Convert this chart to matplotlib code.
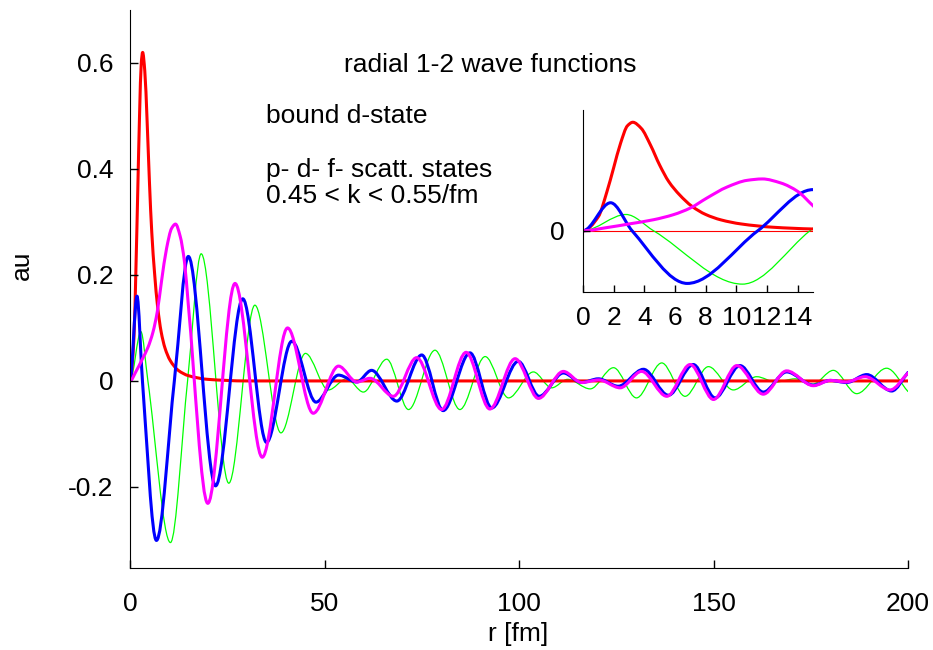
import numpy as np
import matplotlib
matplotlib.use('Agg')
import matplotlib.pyplot as plt
from matplotlib.path import Path
from matplotlib.patches import PathPatch

plt.rcParams['font.family'] = ['Liberation Sans', 'DejaVu Sans']

# values: knots at extrema / zero crossings, r in fm
red_r = [0, 1.0, 1.55, 2.0, 2.45, 2.9, 3.25, 3.8, 4.4, 5.0, 5.6, 6.3, 7.1, 8.0, 9.0,
         10.3, 12.4, 15.0, 20.0, 30.0, 200.0]
red_u = [0, 0.08, 0.22, 0.36, 0.50, 0.60, 0.62, 0.585, 0.49, 0.375, 0.28, 0.205, 0.14,
         0.093, 0.062, 0.039, 0.020, 0.010, 0.003, 0.0, 0.0]

green_r = [0, 2.8, 4.6, 10.4, 14.8, 18.3, 25.4, 32.1, 38.8, 45.1, 51.0, 55.7, 60.0,
           66.0, 71.6, 78.4, 84.8, 91.3, 97.3, 103.7, 108.4, 112.5, 118.3, 124.3,
           130.2, 136.7, 142.7, 148.7, 155.1, 161.1, 166.0, 171.0, 175.5, 180.8,
           186.8, 194.5, 200.0]
green_u = [0, 0.093, 0.0, -0.305, 0.0, 0.24, -0.193, 0.143, -0.098, 0.052, -0.017,
           0.004, -0.021, 0.041, -0.054, 0.058, -0.054, 0.046, -0.032, 0.017, -0.013,
           0.003, -0.015, 0.025, -0.032, 0.034, -0.029, 0.027, -0.017, 0.008, -0.002,
           0.004, -0.006, 0.020, -0.024, 0.024, -0.020]

blue_r = [0, 1.8, 3.2, 6.8, 11.4, 15.0, 22.0, 29.0, 35.1, 41.6, 47.8, 53.6, 58.3,
          62.1, 68.6, 75.0, 80.5, 87.4, 93.0, 99.8, 105.2, 111.4, 116.1, 120.4, 125.5,
          132.0, 138.4, 144.8, 150.4, 156.8, 162.8, 168.8, 175.7, 180.0, 184.2, 189.4,
          195.8, 200.0]
blue_u = [0, 0.16, 0.0, -0.301, 0.0, 0.235, -0.198, 0.155, -0.116, 0.075, -0.040,
          0.011, -0.002, 0.020, -0.038, 0.049, -0.056, 0.053, -0.051, 0.037, -0.029,
          0.015, -0.003, 0.004, -0.010, 0.022, -0.027, 0.031, -0.032, 0.029, -0.021,
          0.017, -0.008, 0.001, -0.003, 0.012, -0.019, 0.016]

magenta_r = [0, 1.55, 3.08, 4.6, 5.9, 7.0, 8.08, 9.4, 10.7, 11.7, 12.9, 14.0, 15.0,
             20.0, 27.0, 34.0, 40.5, 47.1, 53.6, 58.3, 61.7, 67.7, 73.7, 80.1, 86.4,
             92.5, 99.0, 105.0, 111.4, 116.1, 120.5, 126.0, 131.5, 138.0, 144.0, 150.0,
             156.0, 162.8, 168.8, 175.7, 180.0, 184.0, 189.0, 195.4, 200.0]
magenta_u = [0, 0.018, 0.040, 0.063, 0.092, 0.13, 0.187, 0.25, 0.288, 0.296, 0.273,
             0.225, 0.143, -0.231, 0.184, -0.144, 0.10, -0.061, 0.028, -0.002, 0.005,
             -0.029, 0.044, -0.054, 0.054, -0.053, 0.042, -0.033, 0.018, -0.003, 0.002,
             -0.013, 0.018, -0.029, 0.031, -0.035, 0.029, -0.025, 0.019, -0.009, 0.001,
             -0.002, 0.008, -0.017, 0.015]

curves = [(green_r, green_u, '#00ff00', 0.9),
          (red_r, red_u, '#ff0000', 2.2),
          (blue_r, blue_u, '#0000ff', 2.2),
          (magenta_r, magenta_u, '#ff00ff', 2.2)]


def smooth_path(xs, ys):
    # monotone cubic through the knots, drawn as bezier segments
    x = np.asarray(xs, float)
    y = np.asarray(ys, float)
    h = np.diff(x)
    d = np.diff(y) / h
    m = np.zeros_like(y)
    for i in range(1, len(x) - 1):
        if d[i - 1] * d[i] > 0:
            w1 = 2 * h[i] + h[i - 1]
            w2 = h[i] + 2 * h[i - 1]
            m[i] = (w1 + w2) / (w1 / d[i - 1] + w2 / d[i])
    m[-1] = d[-1]
    verts = [(x[0], y[0])]
    codes = [Path.MOVETO]
    for i in range(len(h)):
        verts += [(x[i] + h[i] / 3, y[i] + m[i] * h[i] / 3),
                  (x[i + 1] - h[i] / 3, y[i + 1] - m[i + 1] * h[i] / 3),
                  (x[i + 1], y[i + 1])]
        codes += [Path.CURVE4] * 3
    return Path(verts, codes)


def draw_curves(ax):
    for r, u, c, lw in curves:
        ax.add_patch(PathPatch(smooth_path(r, u), facecolor='none', edgecolor=c,
                               lw=lw, capstyle='round', joinstyle='round'))


W, H = 933, 650
fs = 19
fig = plt.figure(figsize=(W / 100, H / 100), dpi=100)

ax = fig.add_axes([130 / W, 1 - 568 / H, 778 / W, 558 / H])
draw_curves(ax)
ax.set_xlim(0, 200)
ax.set_ylim(-0.353, 0.70)
ax.set_xticks([0, 50, 100, 150, 200])
ax.set_xticklabels(['0', '50', '100', '150', '200'])
ax.set_yticks([-0.2, 0, 0.2, 0.4, 0.6])
ax.set_yticklabels(['-0.2', '0', '0.2', '0.4', '0.6'])
ax.tick_params(axis='both', direction='in', length=6, width=1, labelsize=fs)
ax.tick_params(axis='x', pad=17)
ax.tick_params(axis='y', pad=12)
for s in ['top', 'right']:
    ax.spines[s].set_visible(False)

ins = fig.add_axes([583 / W, 1 - 292 / H, 230 / W, 182 / H])
ins.axhline(0, color='#ff0000', lw=0.8, zorder=0)
draw_curves(ins)
ins.set_xlim(0, 15)
ins.set_ylim(-0.35, 0.69)
ins.set_xticks(range(0, 16, 2))
ins.set_yticks([0])
ins.set_yticklabels(['0'])
ins.tick_params(axis='both', direction='in', length=5, width=1, labelsize=fs)
ins.tick_params(axis='x', pad=10)
ins.tick_params(axis='y', pad=13)
for s in ['top', 'right']:
    ins.spines[s].set_visible(False)

fig.text(344 / W, 1 - 72 / H, 'radial 1-2 wave functions', fontsize=fs,
         ha='left', va='baseline')
fig.text(266 / W, 1 - 123 / H, 'bound d-state', fontsize=fs, ha='left', va='baseline')
fig.text(266 / W, 1 - 177 / H, 'p- d- f- scatt. states', fontsize=fs,
         ha='left', va='baseline')
fig.text(266 / W, 1 - 203 / H, '0.45 < k < 0.55/fm', fontsize=fs,
         ha='left', va='baseline')
fig.text(22 / W, 1 - 265 / H, 'au', fontsize=fs, rotation=90, ha='center', va='center')
fig.text(518 / W, 1 - 634 / H, 'r [fm]', fontsize=fs, ha='center', va='center')

fig.savefig('out.png', dpi=100)
